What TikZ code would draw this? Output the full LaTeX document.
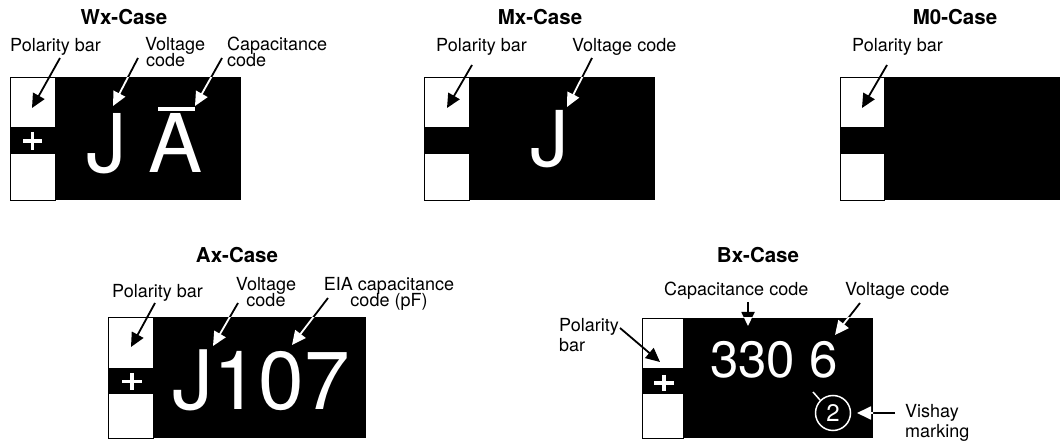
\documentclass[tikz,border=0pt]{standalone}
\usepackage{fontspec}
\setmainfont{TeX Gyre Heros}
\usetikzlibrary{arrows.meta}
\begin{document}
\begin{tikzpicture}[x=1pt,y=-1pt,
  lbl/.style={font=\fontsize{18}{19}\selectfont, inner sep=0pt, anchor=base west},
  lblc/.style={font=\fontsize{18}{19}\selectfont, inner sep=0pt, anchor=base},
  ttl/.style={font=\bfseries\fontsize{20.5}{22}\selectfont, inner sep=0pt, anchor=base},
  big/.style={font=\fontsize{81}{81}\selectfont, text=white, inner sep=0pt, anchor=base west},
  arr/.style={line width=1.8pt, -{Triangle[length=14pt,width=13pt]}},
  warr/.style={arr, white},
  pad/.style={draw=black, fill=white, line width=0.8pt},
  plus/.style={white, line width=3.8pt},
]
\useasboundingbox (0,0) rectangle (1061,443);

% ---------------- Wx-Case ----------------
\node[ttl] (wxt) at (124,25) {Wx-Case};
\fill[black] (10,77) rectangle (241,200);
\draw[pad] (10,77) rectangle (55,127);
\draw[pad] (10,153) rectangle (55,200);
\draw[plus] (23,141) -- (42,141) (32.5,132) -- (32.5,150);
\node[big] (wxj) at (86,173) {J};
\node[big] (wxa) at (148,173) {A};
\draw[white, line width=3.5pt] (158,109) -- (195,109);
\node[lbl] (wxp) at (10,52) {Polarity bar};
\node[lbl] (wxv1) at (145,51) {Voltage};
\node[lbl] (wxv2) at (146,67) {code};
\node[lbl] (wxc1) at (227,51) {Capacitance};
\node[lbl] (wxc2) at (227,67) {code};
\coordinate (wxpT) at (60,58);  \coordinate (wxpH) at (32,108);
\coordinate (wxvT) at (138,58); \coordinate (wxvH) at (113,106);
\coordinate (wxcT) at (222,58); \coordinate (wxcH) at (195,106);
\draw[arr] (wxpT) -- (wxpH);
\draw[arr] (wxvT) -- (wxvH);
\draw[arr] (wxcT) -- (wxcH);
\begin{scope}
  \clip (56,78) rectangle (240,199);
  \draw[warr] (wxvT) -- (wxvH);
  \draw[warr] (wxcT) -- (wxcH);
\end{scope}

% ---------------- Mx-Case ----------------
\node[ttl] (mxt) at (540,25) {Mx-Case};
\fill[black] (424,77) rectangle (655,200);
\draw[pad] (424,77) rectangle (469,127);
\draw[pad] (424,153) rectangle (469,200);
\node[big, font=\fontsize{77}{77}\selectfont] (mxj) at (530,167) {J};
\node[lbl] (mxp) at (436,52) {Polarity bar};
\node[lbl] (mxv) at (572,52) {Voltage code};
\coordinate (mxpT) at (472,65);  \coordinate (mxpH) at (447,108);
\coordinate (mxvT) at (592,58);  \coordinate (mxvH) at (567,107);
\draw[arr] (mxpT) -- (mxpH);
\draw[arr] (mxvT) -- (mxvH);
\begin{scope}
  \clip (470,78) rectangle (654,199);
  \draw[warr] (mxvT) -- (mxvH);
\end{scope}

% ---------------- M0-Case ----------------
\node[ttl] (m0t) at (955,25) {M0-Case};
\fill[black] (840,77) rectangle (1060,200);
\draw[pad] (840,77) rectangle (884,127);
\draw[pad] (840,153) rectangle (884,200);
\node[lbl] (m0p) at (852,52) {Polarity bar};
\coordinate (m0pT) at (887,65);  \coordinate (m0pH) at (862,108);
\draw[arr] (m0pT) -- (m0pH);

% ---------------- Ax-Case ----------------
\node[ttl] (axt) at (237,263) {Ax-Case};
\fill[black] (108,317) rectangle (366,438);
\draw[pad] (108,317) rectangle (153,368);
\draw[pad] (108,393) rectangle (153,438);
\draw[plus] (122,381.5) -- (142,381.5) (132,373) -- (132,390);
\node[big, font=\fontsize{82}{82}\selectfont] (axj) at (172,410) {J107};
\node[lbl] (axp) at (112,298) {Polarity bar};
\node[lblc] (axv1) at (266,291) {Voltage};
\node[lblc] (axv2) at (266,307) {code};
\node[lblc] (axc1) at (389,291) {EIA capacitance};
\node[lblc] (axc2) at (389,307) {code (pF)};
\coordinate (axpT) at (155,303); \coordinate (axpH) at (131,347);
\coordinate (axvT) at (238,303); \coordinate (axvH) at (213,346);
\coordinate (axcT) at (328,298); \coordinate (axcH) at (292,345);
\draw[arr] (axpT) -- (axpH);
\draw[arr] (axvT) -- (axvH);
\draw[arr] (axcT) -- (axcH);
\begin{scope}
  \clip (154,318) rectangle (365,437);
  \draw[warr] (axvT) -- (axvH);
  \draw[warr] (axcT) -- (axcH);
\end{scope}

% ---------------- Bx-Case ----------------
\node[ttl] (bxt) at (758,263) {Bx-Case};
\fill[black] (642,318) rectangle (873,438);
\draw[pad] (642,318) rectangle (683,368);
\draw[pad] (642,393) rectangle (683,438);
\draw[plus] (654,383) -- (674,383) (664,375) -- (664,391);
\node[big, font=\fontsize{51}{51}\selectfont] (bxn) at (710,378) {330 6};
\node[circle, draw=white, line width=1.5pt, minimum size=35pt, inner sep=0pt,
      text=white, font=\fontsize{24}{24}\selectfont] (bx2) at (833,413) {2};
\coordinate (bxk) at (813,392);
\draw[white, line width=1.5pt] (bxk) -- (bx2.north west);
\node[lbl] (bxc) at (664,296) {Capacitance code};
\node[lbl] (bxv) at (845,296) {Voltage code};
\node[lbl] (bxp1) at (559,332) {Polarity};
\node[lbl] (bxp2) at (559,352) {bar};
\node[lbl] (bxm1) at (905,418) {Vishay};
\node[lbl] (bxm2) at (905,438) {marking};
\coordinate (bxpT) at (620,328); \coordinate (bxpH) at (660,362);
\coordinate (bxcT) at (748,302); \coordinate (bxcH) at (748,326);
\coordinate (bxvT) at (860,303); \coordinate (bxvH) at (835,335);
\coordinate (bxmT) at (895,413); \coordinate (bxmH) at (857,413);
\draw[arr] (bxpT) -- (bxpH);
\draw[arr] (bxcT) -- (bxcH);
\draw[arr] (bxvT) -- (bxvH);
\draw[arr] (bxmT) -- (bxmH);
\begin{scope}
  \clip (684,318) rectangle (873,438);
  \draw[warr] (bxcT) -- (bxcH);
  \draw[warr] (bxvT) -- (bxvH);
  \draw[warr] (bxmT) -- (bxmH);
\end{scope}
\end{tikzpicture}
\end{document}
